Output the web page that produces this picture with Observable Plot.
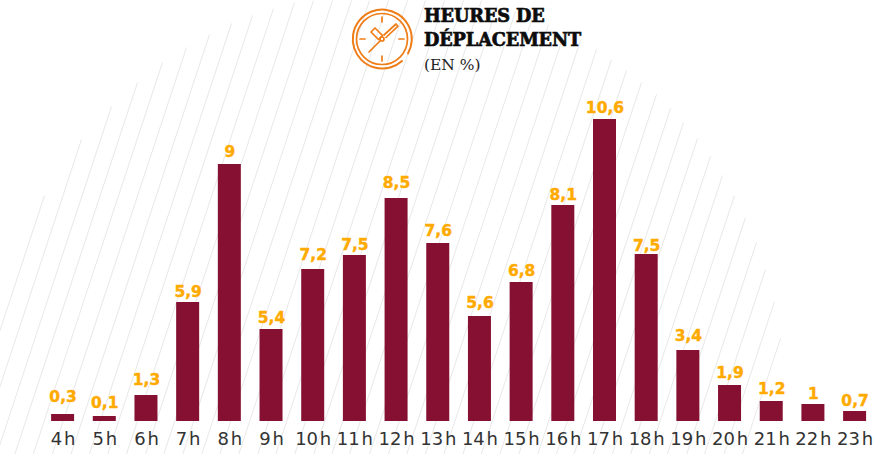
<!DOCTYPE html>
<html lang="fr">
<head>
<meta charset="utf-8">
<script src="https://cdn.jsdelivr.net/npm/d3@7"></script>
<script src="https://cdn.jsdelivr.net/npm/@observablehq/plot@0.6"></script>
<style>
html,body{margin:0;padding:0;background:#fff;}
#wrap{position:relative;width:890px;height:454px;overflow:hidden;}
#wrap svg{display:block;}
#clock{position:absolute;left:350px;top:7px;}
#head{position:absolute;left:424px;top:4px;font-family:"DejaVu Serif",serif;color:#0c0c0c;font-size:17.7px;line-height:24px;font-weight:bold;letter-spacing:-0.1px;-webkit-text-stroke:0.7px #0c0c0c;white-space:nowrap;}
#head span{font-weight:normal;-webkit-text-stroke:0;font-size:15.5px;color:#222;letter-spacing:0;}
</style>
</head>
<body>
<div id="wrap">
  <div id="chart"></div>
  <svg id="clock" width="64" height="64" viewBox="350 7 64 64" fill="none" stroke="#ef7d17" stroke-width="1.7" stroke-linejoin="round" stroke-linecap="round" role="img" aria-label="horloge">
    <path d="M 402 61 A 29.5 29.5 0 1 1 408 53.5" stroke-width="2"/>
    <circle cx="382" cy="39" r="25.5"/>
    <path d="M382 17V22M382 56V61M360 39H365M399 39H404M369 52L380 41"/>
    <path d="M371 32L375 28L382.5 35.5L378.5 39.5Z"/>
    <path d="M384 35L396 24L398 26.2L386 37.5"/>
    <circle cx="382" cy="39" r="2"/>
  </svg>
  <div id="head">HEURES DE<br>DÉPLACEMENT<br><span>(EN %)</span></div>
</div>
<script>
const hours = [4,5,6,7,8,9,10,11,12,13,14,15,16,17,18,19,20,21,22,23];
const labels = ["0,3","0,1","1,3","5,9","9","5,4","7,2","7,5","8,5","7,6","5,6","6,8","8,1","10,6","7,5","3,4","1,9","1,2","1","0,7"];
// Bar lengths as drawn in the picture (they are not proportional to the printed percentages)
const barLengths = [7,5,26,119,257,92,152,166,223,178,105,139,216,302,167,71,36,20,17,10];
// Height of each printed label's baseline above the axis
const labelHeights = [19,13,36,124,264,98,161,171,233,185,113,145,221,308,170,80,43,27,22,15];

// Background hatching: top end of each stroke
const hatchTopX = [44,81,111,137,162,186,209,231,252,273,294,313,332,351,369,388,407,425,444,463,481,497,515,532,548,564,580,596,611,626,641,656,670,683,697,710,722,734,745,756,765,774,780];
const hatchTopY = [195,139,106,82,62,47,34,23,15,8,2,0,0,0,0,0,0,0,0,0,0,5,11,17,24,32,40,49,59,70,82,94,108,122,138,156,175,195,217,242,269,301,338];

const baseline = 421, bottom = 454, lean = 0.33;
const xStep = (854.6 - 62.6) / 19;
const toHour = px => 4 + (px - 62.6) / xStep;

const rows = hours.map((h, i) => ({h, label: labels[i], len: barLengths[i], lift: labelHeights[i]}));
const hatch = hatchTopX.map((x, i) => ({
  x1: toHour(x), y1: baseline - hatchTopY[i],
  x2: toHour(x - (bottom - hatchTopY[i]) * lean), y2: baseline - bottom
}));

const halfBar = 11.5 / xStep;
const plot = Plot.plot({
  width: 890, height: 454,
  marginTop: 0, marginRight: 0, marginBottom: 33, marginLeft: 0,
  style: {background: "transparent"},
  x: {domain: [4, 23], range: [62.6, 854.6], axis: null},
  y: {domain: [0, 421], range: [421, 0], axis: null},
  marks: [
    Plot.link(hatch, {x1: "x1", y1: "y1", x2: "x2", y2: "y2", stroke: "#e8e8e8", strokeWidth: 1}),
    Plot.rectY(rows, {x1: d => d.h - halfBar, x2: d => d.h + halfBar, y: "len", fill: "#861031"}),
    Plot.text(rows, {x: "h", y: "lift", dy: -1, text: "label", fill: "#ffaa00", stroke: "#ffaa00", strokeWidth: 0.4, fontSize: 15.5, fontWeight: "bold", fontFamily: "DejaVu Sans", lineAnchor: "bottom"}),
    Plot.axisX({
      anchor: "bottom", ticks: hours, tickSize: 0, tickPadding: 11, label: null,
      tickFormat: d => d + "\u200ah",
      fontSize: 18, fontFamily: "DejaVu Sans", color: "#333"
    })
  ]
});
document.getElementById("chart").appendChild(plot);
</script>
</body>
</html>
